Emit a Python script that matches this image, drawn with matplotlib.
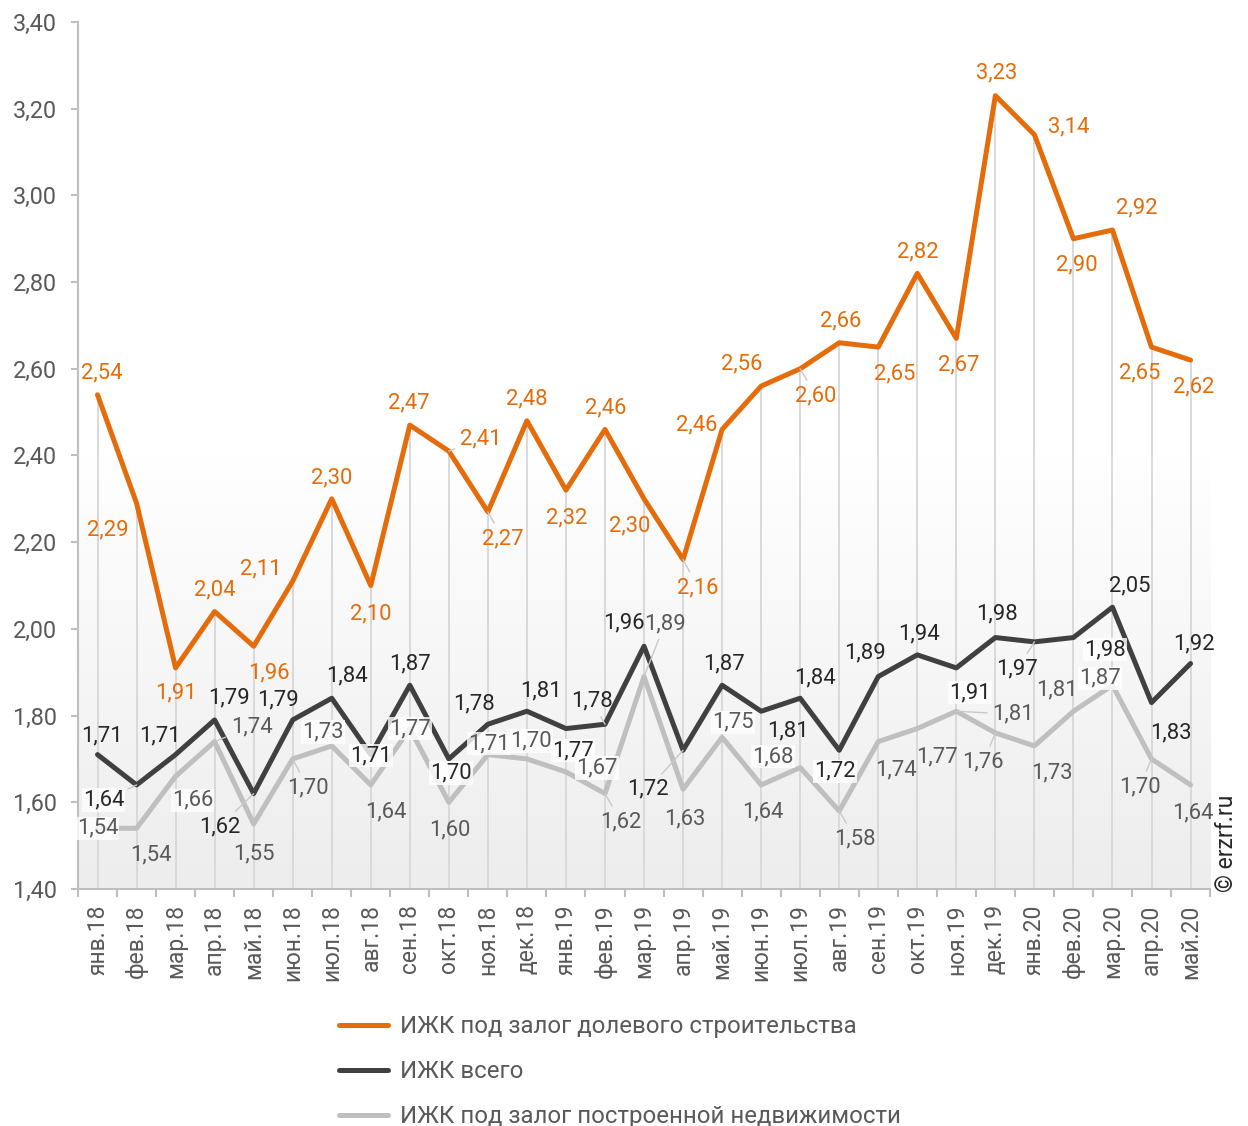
import numpy as np
import matplotlib
matplotlib.use("Agg")
import matplotlib.pyplot as plt
from matplotlib.colors import LinearSegmentedColormap
from matplotlib.ticker import FuncFormatter, FixedLocator

plt.rcParams['font.family'] = ['Roboto', 'DejaVu Sans']

# данные
months = ['янв.18', 'фев.18', 'мар.18', 'апр.18', 'май.18', 'июн.18', 'июл.18', 'авг.18',
          'сен.18', 'окт.18', 'ноя.18', 'дек.18', 'янв.19', 'фев.19', 'мар.19', 'апр.19',
          'май.19', 'июн.19', 'июл.19', 'авг.19', 'сен.19', 'окт.19', 'ноя.19', 'дек.19',
          'янв.20', 'фев.20', 'мар.20', 'апр.20', 'май.20']
dolevoe = [2.54, 2.29, 1.91, 2.04, 1.96, 2.11, 2.30, 2.10, 2.47, 2.41, 2.27, 2.48, 2.32, 2.46, 2.30,
           2.16, 2.46, 2.56, 2.60, 2.66, 2.65, 2.82, 2.67, 3.23, 3.14, 2.90, 2.92, 2.65, 2.62]
vsego = [1.71, 1.64, 1.71, 1.79, 1.62, 1.79, 1.84, 1.71, 1.87, 1.70, 1.78, 1.81, 1.77, 1.78, 1.96,
         1.72, 1.87, 1.81, 1.84, 1.72, 1.89, 1.94, 1.91, 1.98, 1.97, 1.98, 2.05, 1.83, 1.92]
postroen = [1.54, 1.54, 1.66, 1.74, 1.55, 1.70, 1.73, 1.64, 1.77, 1.60, 1.71, 1.70, 1.67, 1.62, 1.89,
            1.63, 1.75, 1.64, 1.68, 1.58, 1.74, 1.77, 1.81, 1.76, 1.73, 1.81, 1.87, 1.70, 1.64]
names = ['ИЖК под залог долевого строительства', 'ИЖК всего',
         'ИЖК под залог построенной недвижимости']

# смещения подписей (пиксели, вниз положительно)
off_or = [(4, -22), (-29, 27), (0, 25), (0, -22), (15, 27), (-32, -12), (0, -21), (0, 28),
          (-1, -22), (32, -12), (15, 27), (0, -22), (1, 28), (1, -22), (-14, 27), (15, 28),
          (-25, -5), (-19, -22), (16, 27), (1, -22), (16, 27), (1, -21), (2, 27), (1, -23),
          (34, -8), (3, 26), (24, -22), (-12, 26), (3, 27)]
off_bk = [(4, -19), (-33, 15), (-16, -19), (14, -22), (-34, 33), (-15, -20), (15, -22), (0, 1),
          (0, -21), (2, 14), (-14, -20), (14, -20), (7, 22), (-13, -23), (-20, -23), (-35, 39),
          (2, -21), (27, 20), (15, -20), (-4, 21), (-13, -24), (2, -21), (14, 25), (2, -24),
          (-17, 27), (32, 12), (17, -21), (19, 30), (3, -20)]
off_gr = [(0, 0), (14, 27), (17, 24), (37, -15), (0, 30), (15, 29), (-9, -14), (15, 27),
          (0, 0), (1, 28), (1, -11), (4, -18), (31, -4), (16, 28), (21, -53), (2, 30),
          (11, -15), (2, 27), (-27, -11), (16, 28), (18, 28), (20, 28), (57, 3), (-12, 29),
          (17, 27), (-16, -21), (-12, -7), (-12, 28), (2, 28)]
lead_or = [9, 10, 15, 18]
lead_bk = [1, 4, 13, 15, 24]
lead_gr = [3, 5, 13, 14, 19, 22, 23, 27]
box_bk = [1, 7, 9, 12, 19, 22, 25]
box_gr = [0, 2, 6, 8, 10, 11, 12, 16, 18, 26]

c_or = '#E46C0A'
c_bk = '#404040'
c_gr = '#BFBFBF'
c_axis = '#BFBFBF'
c_txt = '#595959'

fig = plt.figure(figsize=(12.48, 11.26), dpi=100)
ax = fig.add_axes([0.0625, 0.2105, 0.9071, 0.77])

x = np.arange(len(months))
ax.set_xlim(-0.5, len(months) - 0.5)
ax.set_ylim(1.4, 3.4)

# фон с градиентом
cmap = LinearSegmentedColormap.from_list('bg', ['#ffffff', '#ffffff', '#ededed'])
ax.imshow(np.linspace(0, 1, 256).reshape(-1, 1), cmap=cmap, aspect='auto',
          extent=(-0.5, len(months) - 0.5, 1.4, 3.4), zorder=0)

# линии проекции
ax.vlines(x, 1.4, dolevoe, colors='#d9d9d9', lw=1.4, zorder=1)

lines = []
for vals, col in [(dolevoe, c_or), (vsego, c_bk), (postroen, c_gr)]:
    ln, = ax.plot(x, vals, color=col, lw=3.6, solid_joinstyle='round',
                  solid_capstyle='round', zorder=3)
    lines.append(ln)


def fmt(v):
    return f'{v:.2f}'.replace('.', ',')


def put_labels(vals, offs, col, leads, boxes):
    for i, v in enumerate(vals):
        dx, dy = offs[i]
        kw = {}
        if i in leads:
            kw['arrowprops'] = dict(arrowstyle='-', color='#c8c8c8', lw=1.0,
                                    shrinkA=2, shrinkB=0)
        if i in boxes:
            kw['bbox'] = dict(boxstyle='square,pad=0.05', fc='white', ec='none', alpha=0.8)
        ax.annotate(fmt(v), xy=(i, v), xytext=(dx, -dy), textcoords='offset pixels',
                    ha='center', va='center', fontsize=15.8, color=col, zorder=5, **kw)


put_labels(dolevoe, off_or, c_or, lead_or, [])
put_labels(vsego, off_bk, '#262626', lead_bk, box_bk)
put_labels(postroen, off_gr, c_txt, lead_gr, box_gr)

# оси
for s in ['top', 'right']:
    ax.spines[s].set_visible(False)
for s in ['left', 'bottom']:
    ax.spines[s].set_color(c_axis)
    ax.spines[s].set_linewidth(1.5)

ax.set_yticks(np.arange(1.4, 3.41, 0.2))
ax.yaxis.set_major_formatter(FuncFormatter(lambda v, p: fmt(v)))
ax.tick_params(axis='y', colors=c_axis, labelcolor=c_txt, labelsize=16.8,
               length=5, width=1.5, pad=10)

ax.set_xticks(x)
ax.set_xticklabels(months, rotation=90)
ax.xaxis.set_minor_locator(FixedLocator(np.arange(-0.5, len(months), 1.0)))
ax.tick_params(axis='x', which='major', length=0, labelcolor=c_txt, labelsize=16.5, pad=11)
ax.tick_params(axis='x', which='minor', length=6, width=1.5, color=c_axis)

leg = fig.legend(lines, names, loc='upper left', bbox_to_anchor=(0.272, 0.0985), frameon=False,
                 fontsize=17.3, labelcolor=c_txt, handlelength=2.0, handletextpad=0.5,
                 labelspacing=0.92, borderpad=0, borderaxespad=0)

fig.text(0.983, 0.251, '© erzrf.ru', rotation=90, ha='center', va='center',
         fontsize=16.5, color='#262626')

fig.savefig('out.png', dpi=100)
